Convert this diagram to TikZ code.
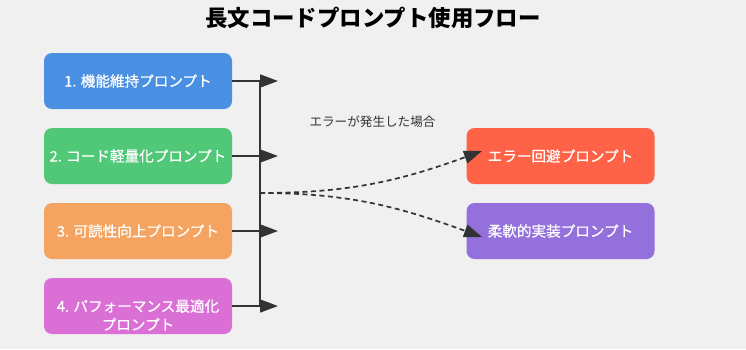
\documentclass[tikz,border=0pt]{standalone}
\usepackage{fontspec}
\setmainfont{Noto Sans CJK JP}
\newfontfamily\medfont[UprightFeatures={FakeBold=0.7}]{Noto Sans CJK JP}
\usepackage{xcolor}
\usetikzlibrary{arrows.meta,positioning}
\definecolor{bgc}{HTML}{F0F0F0}
\definecolor{linec}{HTML}{333333}
\definecolor{cblue}{HTML}{4A90E2}
\definecolor{cgreen}{HTML}{50C878}
\definecolor{corange}{HTML}{F4A460}
\definecolor{cmagenta}{HTML}{DA70D6}
\definecolor{cred}{HTML}{FF6347}
\definecolor{cpurple}{HTML}{9370DB}
\tikzset{
  boxtext/.style={inner sep=1pt, align=center, text=white, font=\medfont\fontsize{14.6}{18.5}\selectfont},
  promptbox/.style={boxtext, rounded corners=8pt, minimum width=188pt, minimum height=56pt},
  flowline/.style={draw=linec, line width=1.7pt},
  flowarrow/.style={flowline, -{Triangle[length=18pt,width=13pt]}},
  errarrow/.style={flowline, dashed, dash pattern=on 5pt off 3.5pt, -{Triangle[length=18pt,width=13pt]}},
  every picture/.style={line cap=butt, line join=round}
}
\begin{document}
\begin{tikzpicture}[x=1pt,y=-1pt]
    \fill[bgc] (0,0) rectangle (746,349);
    \useasboundingbox (0,0) rectangle (746,349);

    \node[font=\fontsize{22.4}{26}\selectfont\bfseries] (title) at (373,18) {長文コードプロンプト使用フロー};

    \node[promptbox, fill=cblue] (p1) at (138,81) {1. 機能維持プロンプト};
    \node[promptbox, fill=cgreen] (p2) at (138,156) {2. コード軽量化プロンプト};
    \node[promptbox, fill=corange] (p3) at (138,231) {3. 可読性向上プロンプト};
    \node[promptbox, fill=cmagenta] (p4) at (138,306) {};
    \node[boxtext] (p4text) at (138,315) {4. パフォーマンス最適化\\プロンプト};

    \node[promptbox, fill=cred] (e1) at (560.5,156) {エラー回避プロンプト};
    \node[promptbox, fill=cpurple] (e2) at (560.5,231) {柔軟的実装プロンプト};

    \coordinate (t1) at (278,81);
    \coordinate (t2) at (278,156);
    \coordinate (t3) at (278,231);
    \coordinate (t4) at (278,306);
    \coordinate (bustop) at (260,81);
    \coordinate (busbot) at (260,306);
    \coordinate (fork) at (260,193);
    \coordinate (h1) at (482,151);
    \coordinate (h2) at (482,237);

    \draw[flowline] (bustop)--(busbot);
    \draw[flowarrow] (p1.east)--(t1);
    \draw[flowarrow] (p2.east)--(t2);
    \draw[flowarrow] (p3.east)--(t3);
    \draw[flowarrow] (p4.east)--(t4);

    \draw[errarrow] (fork) to[out=0,in=200] (h1);
    \draw[errarrow] (fork) to[out=0,in=160] (h2);

    \node[text=linec, font=\fontsize{12.6}{15}\selectfont] (errlabel) at (372.5,122) {エラーが発生した場合};
  \end{tikzpicture}
\end{document}
